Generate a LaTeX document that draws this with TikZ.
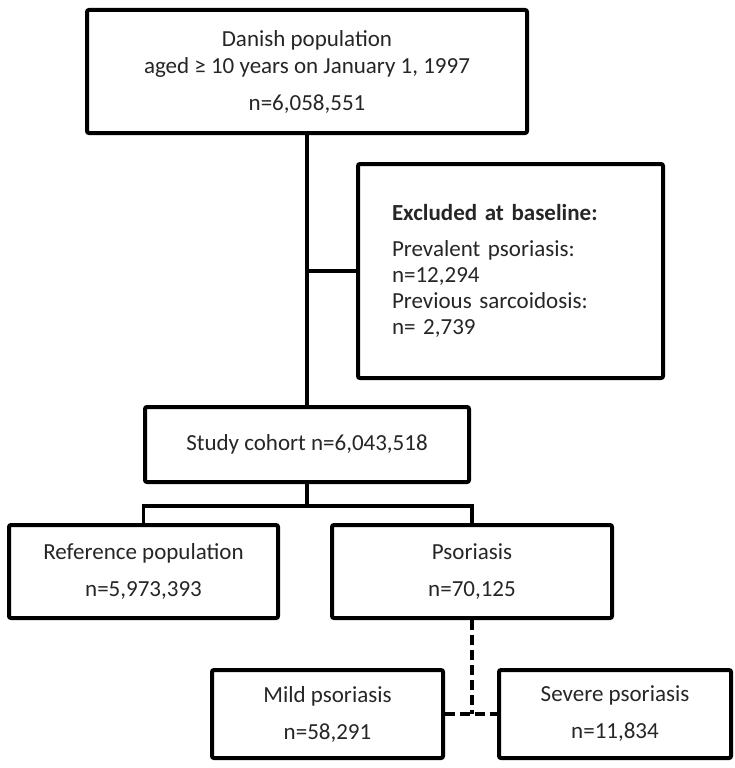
\documentclass[tikz,border=0pt]{standalone}
\usepackage{fontspec}
\setmainfont{Carlito}
\usepackage{tikz}
\usetikzlibrary{positioning}
\definecolor{flowLine}{HTML}{000000}
\definecolor{flowText}{HTML}{262626}

\begin{document}
\begin{tikzpicture}[
    x=1pt, y=-1pt,
    box/.style={rectangle, rounded corners=2pt, draw=flowLine, line width=4pt, fill=white, text=flowText, minimum width=#1, align=center, font=\fontsize{23}{27}\selectfont},
    link/.style={line width=3.5pt, draw=flowLine},
    dashlink/.style={line width=4pt, draw=flowLine, dash pattern=on 10pt off 5pt}
]
\useasboundingbox (0,0) rectangle (735,768);

% Source population
\node[box=440pt, minimum height=123pt] (population) at (307,71.5) {Danish population\\aged ≥ 10 years on January 1, 1997\\[10pt]n=6,058,551};

% Exclusions
\node[box=305pt, minimum height=214pt, text width=237pt, align=left, font=\fontsize{23}{26}\selectfont] (excluded) at (510.5,271) {\textbf{Excluded at baseline:}\\[10pt]Prevalent psoriasis:\\n=12,294\\Previous sarcoidosis:\\n= 2,739};

% Study cohort
\node[box=324pt, minimum height=75pt, below=270pt of population] (cohort) {Study cohort n=6,043,518};

% Comparison groups
\node[box=269pt, minimum height=93pt] (reference) at (143.5,571.5) {Reference population\\[10pt]n=5,973,393};
\node[box=280pt, minimum height=93pt, right=50pt of reference] (psoriasis) {Psoriasis\\[10pt]n=70,125};

% Severity subgroups
\node[box=231pt, minimum height=88pt] (mild) at (327.5,714) {Mild psoriasis\\[10pt]n=58,291};
\node[box=232pt, minimum height=88pt, right=52pt of mild] (severe) {Severe psoriasis\\[10pt]n=11,834};

% Connectors
\draw[link] (population) -- (cohort);
\draw[link] (excluded.west) -- (excluded.west -| population.south);
\coordinate[below=22pt of cohort] (split);
\draw[link] (cohort) -- (split);
\draw[link] (reference.north) |- (split) -| (psoriasis.north);

% Severity split (dashed)
\draw[dashlink] (psoriasis.south) -- (psoriasis.south |- mild.east);
\draw[dashlink] (mild.east) -- (severe.west);

\end{tikzpicture}
\end{document}
